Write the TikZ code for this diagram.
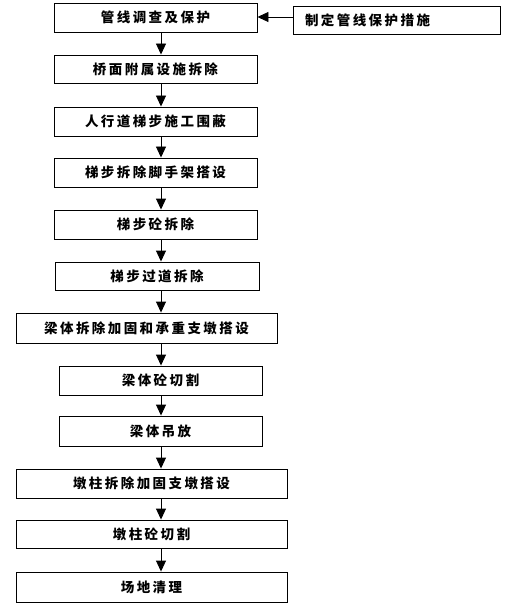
\documentclass[tikz,border=0pt]{standalone}
\usepackage{fontspec}
\setmainfont{Noto Sans CJK SC}[LetterSpace=18]
\usetikzlibrary{arrows.meta}
\begin{document}
\begin{tikzpicture}[x=1pt,y=-1pt,
  box/.style={draw=black,line width=0.9pt,inner sep=0pt,font=\fontsize{13.5}{15}\selectfont\bfseries},
  arr/.style={draw=black,line width=0.9pt,-{Triangle[length=11pt,width=10pt]}}]
\useasboundingbox (0,0) rectangle (511,604);
\coordinate (ax) at (161,0);
\node[box,minimum width=203,minimum height=29] (b1) at (155.5,17.5) {管线调查及保护};
\node[box,text width=183pt,align=left,inner xsep=12pt,minimum height=28] (s1) at (396.5,20) {制定管线保护措施};
\node[box,minimum width=203,minimum height=28] (b2) at (155.5,69) {桥面附属设施拆除};
\node[box,minimum width=203,minimum height=29] (b3) at (155.5,121.5) {人行道梯步施工围蔽};
\node[box,minimum width=203,minimum height=29] (b4) at (155.5,172.5) {梯步拆除脚手架搭设};
\node[box,minimum width=203,minimum height=29] (b5) at (155.5,224.5) {梯步砼拆除};
\node[box,minimum width=204,minimum height=28] (b6) at (157,276) {梯步过道拆除};
\node[box,minimum width=261,minimum height=30] (b7) at (146.5,328) {梁体拆除加固和承重支墩搭设};
\node[box,minimum width=203,minimum height=29] (b8) at (160.5,380.5) {梁体砼切割};
\node[box,minimum width=203,minimum height=30] (b9) at (160.5,431) {梁体吊放};
\node[box,minimum width=271,minimum height=29] (b10) at (151.5,483.5) {墩柱拆除加固支墩搭设};
\node[box,minimum width=271,minimum height=28] (b11) at (151.5,534) {墩柱砼切割};
\node[box,minimum width=271,minimum height=30] (b12) at (151.5,587) {场地清理};
\draw[arr] (s1.west |- 0,17) -- (b1.east |- 0,17);
\foreach \a/\b in {b1/b2,b2/b3,b3/b4,b4/b5,b5/b6,b6/b7,b7/b8,b8/b9,b9/b10,b10/b11,b11/b12}
  \draw[arr] (\a.south -| ax) -- (\b.north -| ax);
\end{tikzpicture}
\end{document}
